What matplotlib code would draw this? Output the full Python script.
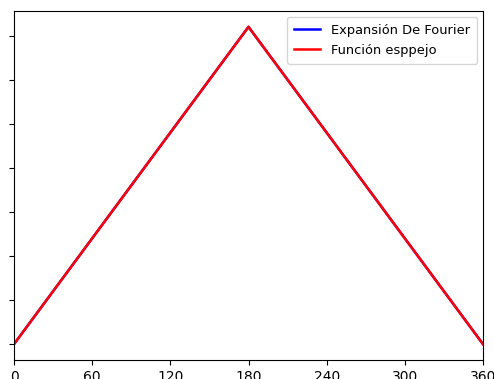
import numpy as np
from matplotlib import pyplot as plt

# Mirror (triangle) function over one period, in degrees
x_deg = [0, 180, 360]
mirror_vals = [0, 180, 0]
fourier_vals = [0, 180, 0]
xticks = [0, 60, 120, 180, 240, 300, 360]
yticks = [0, 25, 50, 75, 100, 125, 150, 175]

fig = plt.figure(figsize=(4.94, 3.79), dpi=100)
ax = fig.add_axes([14 / 494, 19 / 379, 469 / 494, 349 / 379])

ax.plot(x_deg, fourier_vals, color='blue', lw=1.8, label='Expansión De Fourier')
ax.plot(x_deg, mirror_vals, color='red', lw=1.8, label='Función esppejo')

ax.set_xlim(0, 360)
ax.set_xticks(xticks)
ax.set_yticks(yticks)
ax.set_yticklabels([])
ax.legend(loc='upper right', fontsize=9.4, borderpad=0.55, borderaxespad=0.45)

fig.savefig('out.png', dpi=100)
